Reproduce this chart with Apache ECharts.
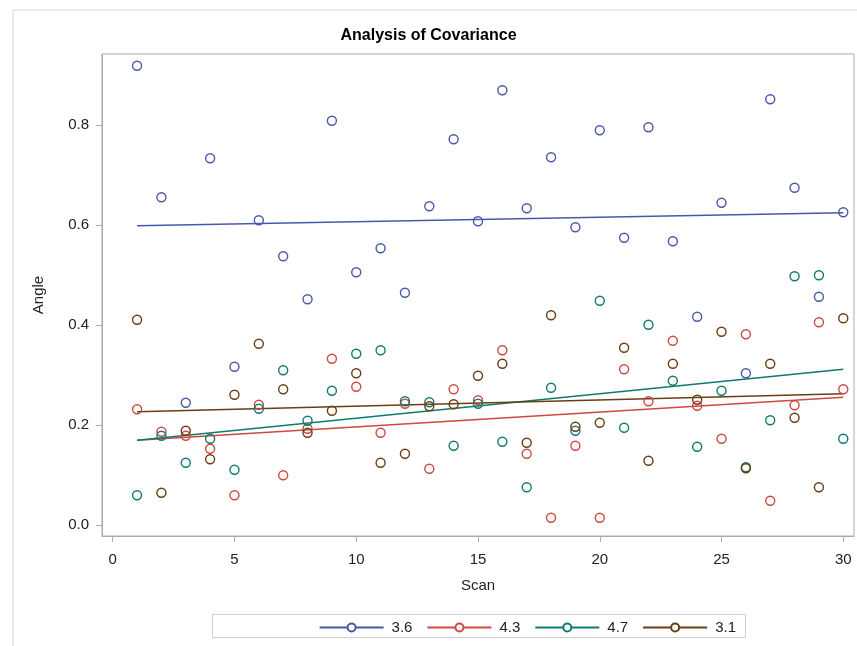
<!DOCTYPE html>
<html>
<head>
<meta charset="utf-8">
<script src="https://cdn.jsdelivr.net/npm/echarts@6/dist/echarts.min.js"></script>
<style>html,body{margin:0;padding:0;background:#fff}#c{width:857px;height:646px}</style>
</head>
<body>
<div id="c"></div>
<script>
var scans = [1,2,3,4,5,6,7,8,9,10,11,12,13,14,15,16,17,18,19,20,21,22,23,24,25,26,27,28,29,30];
var groupNames = ['3.6','4.3','4.7','3.1'];
var angle36 = [0.919,0.656,0.245,0.734,0.317,0.610,0.538,0.452,0.809,0.506,0.554,0.465,0.638,0.772,0.608,0.870,0.634,0.736,0.596,0.790,0.575,0.796,0.568,0.417,0.645,0.304,0.852,0.675,0.457,0.626];
var angle43 = [0.232,0.187,0.179,0.153,0.060,0.241,0.100,0.193,0.333,0.277,0.185,0.243,0.113,0.272,0.250,0.350,0.143,0.015,0.159,0.015,0.312,0.248,0.369,0.239,0.173,0.382,0.049,0.240,0.406,0.272];
var angle47 = [0.060,0.179,0.125,0.173,0.111,0.233,0.310,0.209,0.269,0.343,0.350,0.248,0.246,0.159,0.243,0.167,0.076,0.275,0.189,0.449,0.195,0.401,0.289,0.157,0.269,0.116,0.210,0.498,0.500,0.173];
var angle31 = [0.411,0.065,0.189,0.132,0.261,0.363,0.272,0.185,0.229,0.304,0.125,0.143,0.238,0.242,0.299,0.323,0.165,0.420,0.197,0.205,0.355,0.129,0.323,0.251,0.387,0.114,0.323,0.215,0.076,0.414];
// fitted lines (value at scan 1 and scan 30)
var fitScan = [1, 30];
var fit36 = [0.599, 0.625];
var fit43 = [0.170, 0.256];
var fit47 = [0.170, 0.312];
var fit31 = [0.227, 0.263];
var xTicks = [0,5,10,15,20,25,30];
var yTicks = [0,0.2,0.4,0.6,0.8];

var colors = ['#4858a8','#cc4a40','#0f7a6e','#6a3d12'];
var groups = [angle36, angle43, angle47, angle31];
var fits = [fit36, fit43, fit47, fit31];

var series = [];
groups.forEach(function(vals, i){
  series.push({
    type: 'line', name: groupNames[i], symbol: 'emptyCircle', showSymbol: false,
    data: fitScan.map(function(s, j){ return [s, fits[i][j]]; }),
    lineStyle: {color: colors[i], width: 1.5}, itemStyle: {color: colors[i]},
    silent: true, z: 2
  });
});
groups.forEach(function(vals, i){
  series.push({
    type: 'scatter', name: groupNames[i], symbol: 'circle', symbolSize: 9,
    data: scans.map(function(s, j){ return [s, vals[j]]; }),
    itemStyle: {color: 'rgba(0,0,0,0)', borderColor: colors[i], borderWidth: 1.4, opacity: 1},
    z: 3
  });
});

var chart = echarts.init(document.getElementById('c'), null, {renderer: 'canvas'});
var font = 'Liberation Sans, Arial, sans-serif';
chart.setOption({
  animation: false,
  backgroundColor: '#fff',
  title: {text: 'Analysis of Covariance', left: 'center', top: 23,
    textStyle: {fontFamily: font, fontWeight: 'bold', fontSize: 16, color: '#000'}},
  graphic: [
    {type: 'rect', shape: {x: 13, y: 10, width: 900, height: 700}, style: {fill: 'none', stroke: '#d4d4d4', lineWidth: 1}, z: -10, silent: true},
    {type: 'rect', shape: {x: 212.5, y: 614.5, width: 533, height: 23}, style: {fill: '#fff', stroke: '#cfcfcf', lineWidth: 1}, z: -5, silent: true}
  ],
  legend: {
    data: groupNames, right: 121, top: 620, padding: 0, itemWidth: 64, itemHeight: 10, itemGap: 14,
    textStyle: {fontFamily: font, fontSize: 15, color: '#222', padding: [0,0,0,3]},
    selectedMode: false
  },
  grid: {left: 102, right: 3, top: 54, bottom: 110, show: true, borderColor: '#a8abb0', borderWidth: 1, containLabel: false},
  xAxis: {
    type: 'value', min: -0.44, max: 30.44,
    name: 'Scan', nameLocation: 'middle', nameGap: 42,
    nameTextStyle: {fontFamily: font, fontSize: 15, color: '#222'},
    axisLine: {show: true, onZero: false, lineStyle: {color: '#a8abb0'}},
    axisTick: {show: true, inside: false, length: 6, lineStyle: {color: '#a8abb0'}, customValues: xTicks},
    axisLabel: {fontFamily: font, fontSize: 15, color: '#222', margin: 16, customValues: xTicks,
      formatter: function(v){ return String(Math.round(v)); }},
    splitLine: {show: false}
  },
  yAxis: {
    type: 'value', min: -0.0214, max: 0.9426,
    name: 'Angle', nameLocation: 'middle', nameGap: 56, nameRotate: 90,
    nameTextStyle: {fontFamily: font, fontSize: 15, color: '#222'},
    axisLine: {show: true, onZero: false, lineStyle: {color: '#a8abb0'}},
    axisTick: {show: true, inside: false, length: 6, lineStyle: {color: '#a8abb0'}, customValues: yTicks},
    axisLabel: {fontFamily: font, fontSize: 15, color: '#222', margin: 13, customValues: yTicks,
      formatter: function(v){ return v.toFixed(1); }},
    splitLine: {show: false}
  },
  series: series
});
</script>
</body>
</html>
